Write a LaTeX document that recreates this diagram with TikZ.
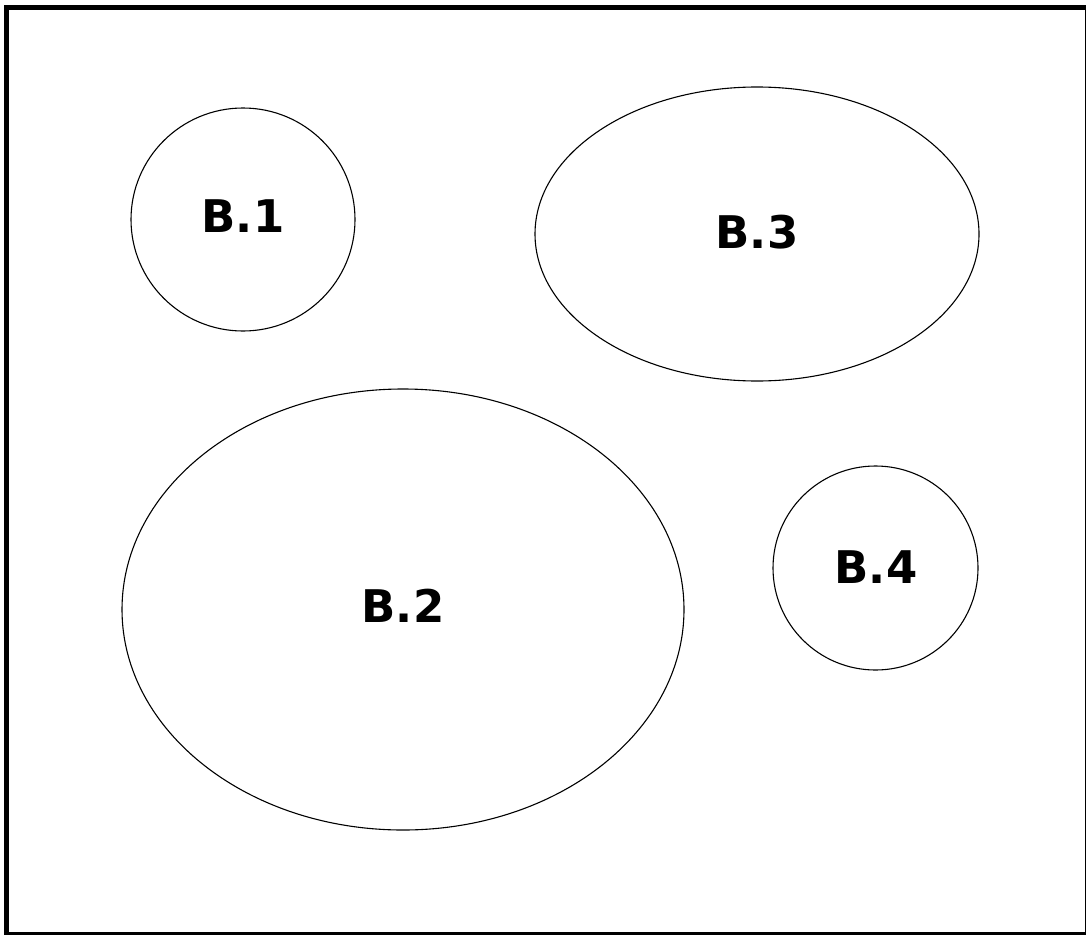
\documentclass[tikz,border=0pt]{standalone}
\usepackage{fontspec}
\setmainfont{DejaVu Sans}
\begin{document}
\begin{tikzpicture}[x=1pt,y=-1pt,
  region/.style={draw=black,line width=1.1pt},
  lbl/.style={font=\fontsize{45}{50}\selectfont\bfseries,inner sep=0pt}]
\useasboundingbox (0,0) rectangle (1086,934);
\begin{scope}
\clip (0,0) rectangle (1086,934);
\draw[line width=5pt] (6.5,7.5) rectangle (1087,934.5);
\end{scope}
\draw[region] (243,219.5) ellipse [x radius=112, y radius=111.5];
\draw[region] (757,234) ellipse [x radius=222, y radius=147];
\draw[region] (403,609.5) ellipse [x radius=281, y radius=220.5];
\draw[region] (875.5,568) ellipse [x radius=102.5, y radius=102];
\node[lbl] (b1) at (243,216) {B.1};
\node[lbl] (b3) at (757,232) {B.3};
\node[lbl] (b2) at (403,606) {B.2};
\node[lbl] (b4) at (876,567) {B.4};
\end{tikzpicture}
\end{document}
